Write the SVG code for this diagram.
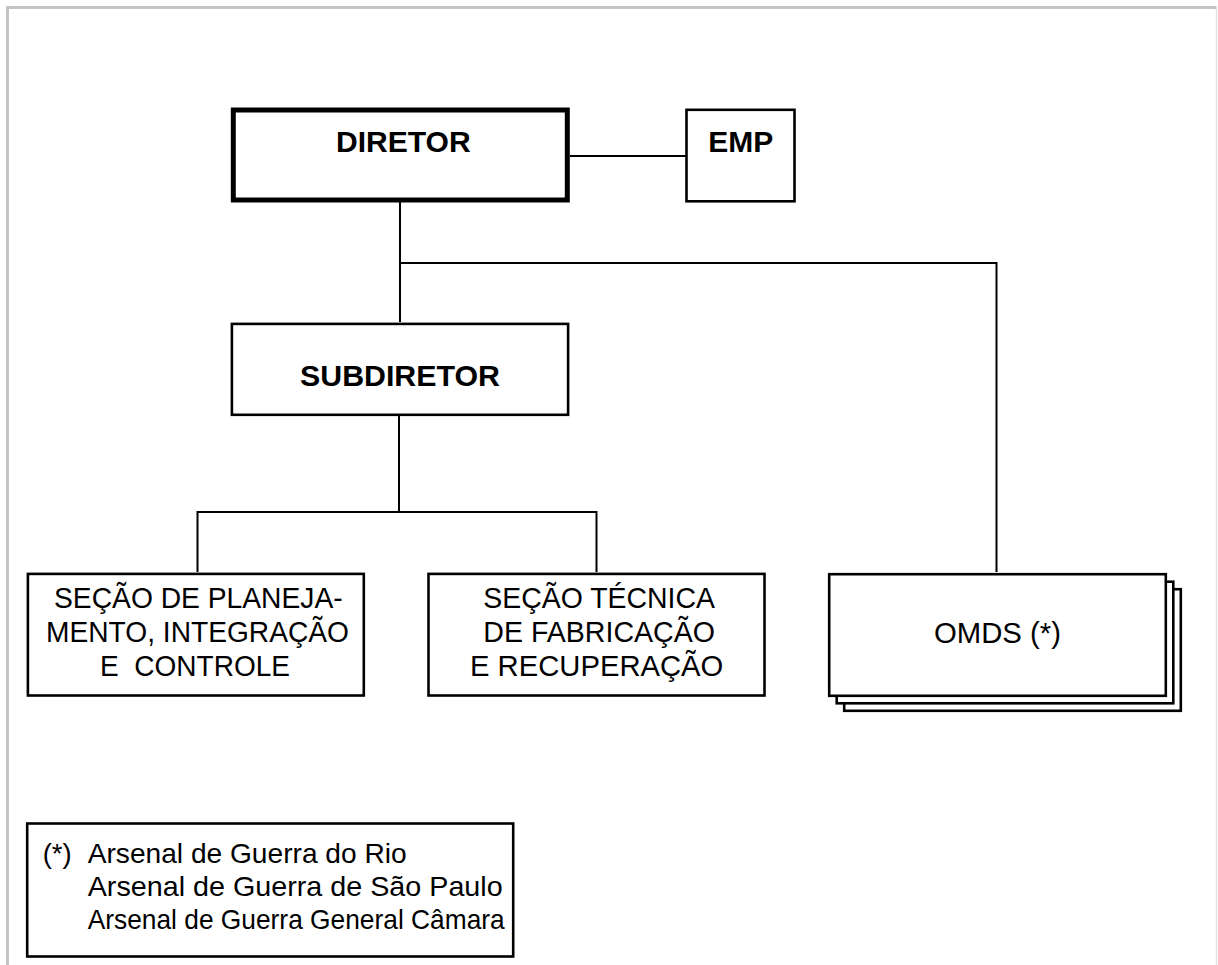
<svg xmlns="http://www.w3.org/2000/svg" width="1218" height="965" viewBox="0 0 1218 965">
<style>
.box{fill:#fff;stroke:#000;stroke-width:2.6}
.conn{stroke:#000;stroke-width:2;fill:none}
.b{font-family:"Liberation Sans",Arial,sans-serif;font-weight:bold;font-size:29.5px;fill:#000}
.r{font-family:"Liberation Sans",Arial,sans-serif;font-size:29px;fill:#000}
.l{font-family:"Liberation Sans",Arial,sans-serif;font-size:27.5px;fill:#000}
.o{font-family:"Liberation Sans",Arial,sans-serif;font-size:29px;fill:#000}
</style>
<rect width="1218" height="965" fill="#fff"/>
<g id="frame">
<path d="M7.5 966 V7.5 H1216.5" fill="none" stroke="#c4c4c4" stroke-width="3"/>
<path d="M1216.5 7.5 V966" fill="none" stroke="#e2e2e2" stroke-width="1.5"/>
</g>
<g id="connectors">
<path class="conn" d="M570 156 H686"/>
<path class="conn" d="M400 201 V322"/>
<path class="conn" d="M400 263 H996.5 V572"/>
<path class="conn" d="M399 416 V512"/>
<path class="conn" d="M197.5 572 V512 H596.5 V572"/>
</g>
<g id="diretor">
<rect x="233.3" y="110" width="334" height="90" fill="#fff" stroke="#000" stroke-width="5"/>
<text class="b" x="336" y="152" textLength="134.7" lengthAdjust="spacingAndGlyphs">DIRETOR</text>
</g>
<g id="emp">
<rect class="box" x="686.5" y="109.8" width="108" height="91.5"/>
<text class="b" x="708.3" y="152" textLength="65" lengthAdjust="spacingAndGlyphs">EMP</text>
</g>
<g id="subdiretor">
<rect class="box" x="231.9" y="323.9" width="336.2" height="90.9"/>
<text class="b" x="300" y="386" textLength="200" lengthAdjust="spacingAndGlyphs">SUBDIRETOR</text>
</g>
<g id="secao-planejamento">
<rect class="box" x="27.9" y="573.9" width="335.9" height="121.6"/>
<text class="r" x="54" y="607.5" textLength="288.7" lengthAdjust="spacingAndGlyphs">SEÇÃO DE PLANEJA-</text>
<text class="r" x="46" y="641.5" textLength="303" lengthAdjust="spacingAndGlyphs">MENTO, INTEGRAÇÃO</text>
<text class="r" x="100" y="675.5" textLength="190" lengthAdjust="spacingAndGlyphs" xml:space="preserve">E  CONTROLE</text>
</g>
<g id="secao-tecnica">
<rect class="box" x="428.5" y="573.9" width="336" height="121.6"/>
<text class="r" x="483.3" y="607.5" textLength="231.7" lengthAdjust="spacingAndGlyphs">SEÇÃO TÉCNICA</text>
<text class="r" x="483.3" y="641.5" textLength="231.7" lengthAdjust="spacingAndGlyphs">DE FABRICAÇÃO</text>
<text class="r" x="470" y="675.5" textLength="253.3" lengthAdjust="spacingAndGlyphs">E RECUPERAÇÃO</text>
</g>
<g id="omds">
<rect class="box" x="844.2" y="589.2" width="336.6" height="121.6"/>
<rect class="box" x="836.7" y="581.7" width="336.6" height="121.6"/>
<rect class="box" x="829.2" y="574.2" width="336.6" height="121.6"/>
<text class="o" x="934" y="643" textLength="127" lengthAdjust="spacingAndGlyphs">OMDS (*)</text>
</g>
<g id="legenda">
<rect class="box" x="27.2" y="823.5" width="486" height="133"/>
<text class="l" x="42.7" y="863" textLength="29" lengthAdjust="spacingAndGlyphs">(*)</text>
<text class="l" x="87.7" y="863" textLength="319" lengthAdjust="spacingAndGlyphs">Arsenal de Guerra do Rio</text>
<text class="l" x="87.7" y="896" textLength="415" lengthAdjust="spacingAndGlyphs">Arsenal de Guerra de São Paulo</text>
<text class="l" x="87.7" y="929" textLength="417" lengthAdjust="spacingAndGlyphs">Arsenal de Guerra General Câmara</text>
</g>
</svg>
